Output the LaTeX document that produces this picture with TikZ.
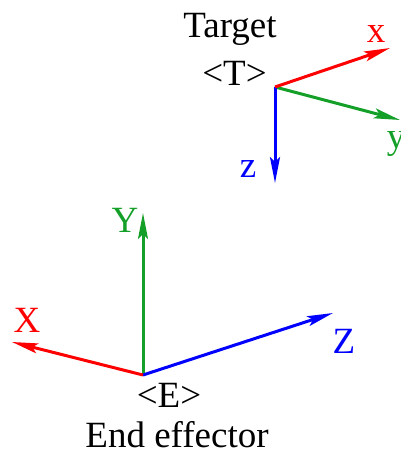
\documentclass[tikz,border=0pt]{standalone}
\usepackage{fontspec}
\setmainfont{Liberation Serif}
\usetikzlibrary{arrows.meta}
\definecolor{axred}{RGB}{255,0,0}
\definecolor{axgreen}{RGB}{20,160,40}
\definecolor{axblue}{RGB}{0,0,255}
\begin{document}
\begin{tikzpicture}[x=1pt,y=-1pt,
  axis/.style={line width=3pt,-{Stealth[length=26pt,width=10pt,inset=5pt]}},
  lbl/.style={anchor=base,inner sep=0pt,font=\fontsize{37}{40}\selectfont}]
\useasboundingbox (0,0) rectangle (400,455);
% target frame
\coordinate (T) at (275,87);
\coordinate (Tx) at (390,48);
\coordinate (Ty) at (400,120);
\coordinate (Tz) at (275,183);
\draw[axis,axgreen] (T) -- (Ty);
\draw[axis,axblue] (T) -- (Tz);
\draw[axis,axred] (T) -- (Tx);
\node[lbl] (tgt) at (230,37) {Target};
\node[lbl] (tlab) at (234.5,85) {<T>};
\node[lbl,text=axred] (xl) at (376,42) {x};
\node[lbl,text=axgreen] (yl) at (396,148) {y};
\node[lbl,text=axblue] (zl) at (248,177) {z};
% end effector frame
\coordinate (E) at (143,375);
\coordinate (EX) at (12,342);
\coordinate (EY) at (143,213);
\coordinate (EZ) at (333,313);
\draw[axis,axgreen] (E) -- (EY);
\draw[axis,axblue] (E) -- (EZ);
\draw[axis,axred] (E) -- (EX);
\node[lbl,text=axgreen] (Yl) at (125,232) {Y};
\node[lbl,text=axred] (Xl) at (27,332) {X};
\node[lbl,text=axblue] (Zl) at (344,353) {Z};
\node[lbl] (elab) at (169,407) {<E>};
\node[lbl] (eff) at (177,447) {End effector};
\end{tikzpicture}
\end{document}
